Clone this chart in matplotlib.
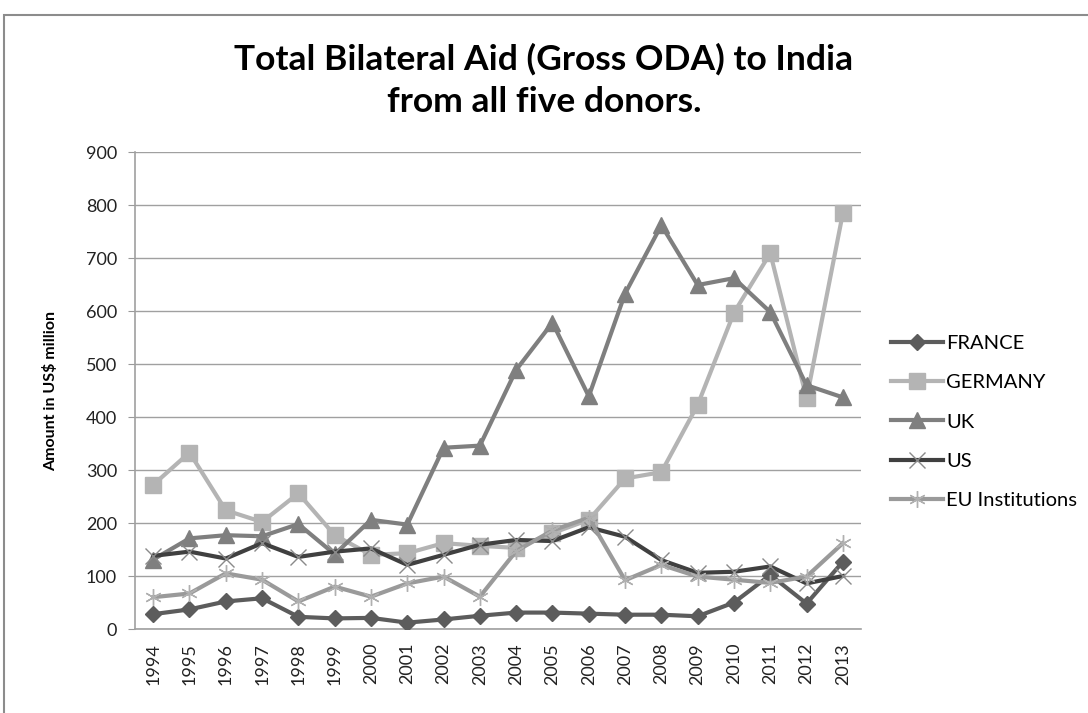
import matplotlib.pyplot as plt
from matplotlib.patches import Rectangle

plt.rcParams['font.family'] = ['Lato', 'DejaVu Sans']

years = ['1994', '1995', '1996', '1997', '1998', '1999', '2000', '2001', '2002', '2003',
         '2004', '2005', '2006', '2007', '2008', '2009', '2010', '2011', '2012', '2013']

france = [28, 37, 52, 58, 23, 20, 21, 12, 18, 25, 31, 31, 29, 27, 27, 24, 50, 102, 48, 127]
germany = [272, 333, 224, 202, 256, 177, 140, 143, 162, 157, 153, 181, 206, 284, 296, 423, 597, 709, 435, 785]
uk = [131, 171, 177, 175, 198, 141, 206, 197, 342, 346, 489, 578, 439, 633, 762, 649, 662, 598, 460, 437]
us = [138, 146, 133, 162, 136, 146, 152, 121, 140, 159, 168, 166, 192, 174, 130, 106, 108, 118, 86, 100]
eu = [60, 67, 105, 93, 52, 80, 61, 86, 99, 61, 147, 186, 210, 92, 121, 99, 93, 87, 99, 162]

fig = plt.figure(figsize=(10.88, 7.13), dpi=100)
ax = fig.add_axes([0.1241, 0.1178, 0.6673, 0.669])

# outer chart border
fig.patches.append(Rectangle((4 / 1088, -0.01), 1.01, 0.997 - 4 / 1088 - 0.004,
                             transform=fig.transFigure, fill=False,
                             edgecolor='#8c8c8c', linewidth=1.5))

x = list(range(len(years)))
lw = 3
ax.plot(x, france, color='#5c5c5c', lw=lw, marker='D', ms=8, mfc='#5c5c5c', mec='#5c5c5c', label='FRANCE', zorder=3)
ax.plot(x, germany, color='#b4b4b4', lw=lw, marker='s', ms=11, mfc='#b4b4b4', mec='#b4b4b4', label='GERMANY', zorder=3)
ax.plot(x, uk, color='#7f7f7f', lw=lw, marker='^', ms=11, mfc='#7f7f7f', mec='#7f7f7f', label='UK', zorder=3)
ax.plot(x, us, color='#404040', lw=lw, marker='x', ms=11, mew=1, mec='#8a8a8a', label='US', zorder=3)
ax.plot(x, eu, color='#9a9a9a', lw=lw, marker=(6, 2, 0), ms=12, mew=1, mec='#b0b0b0', label='EU Institutions', zorder=3)

ax.set_xlim(-0.5, len(years) - 0.5)
ax.set_ylim(0, 900)
ax.set_yticks(range(0, 901, 100))
ax.set_xticks(x)
ax.set_xticklabels(years, rotation=90, fontsize=13, color='#222222')
ax.tick_params(axis='y', labelsize=13, colors='#222222', length=5, color='#999999', pad=8)
ax.tick_params(axis='x', length=0, pad=10)
ax.grid(axis='y', color='#a0a0a0', lw=1)
ax.set_axisbelow(True)
for s in ['top', 'right']:
    ax.spines[s].set_visible(False)
for s in ['left', 'bottom']:
    ax.spines[s].set_color('#a0a0a0')
    ax.spines[s].set_linewidth(1.2)

ax.set_ylabel('Amount in US$ million', fontsize=11.5, fontweight='bold', labelpad=20)
fig.text(0.5, 0.887, 'Total Bilateral Aid (Gross ODA) to India\nfrom all five donors.',
         ha='center', va='center', fontsize=25.5, fontweight='bold', linespacing=1.4)

ax.legend(loc='center left', bbox_to_anchor=(1.03, 0.434), frameon=False, fontsize=14.5,
          labelspacing=1.1, handlelength=2.6, handletextpad=0.15, borderaxespad=0)

fig.savefig('out.png', dpi=100)
